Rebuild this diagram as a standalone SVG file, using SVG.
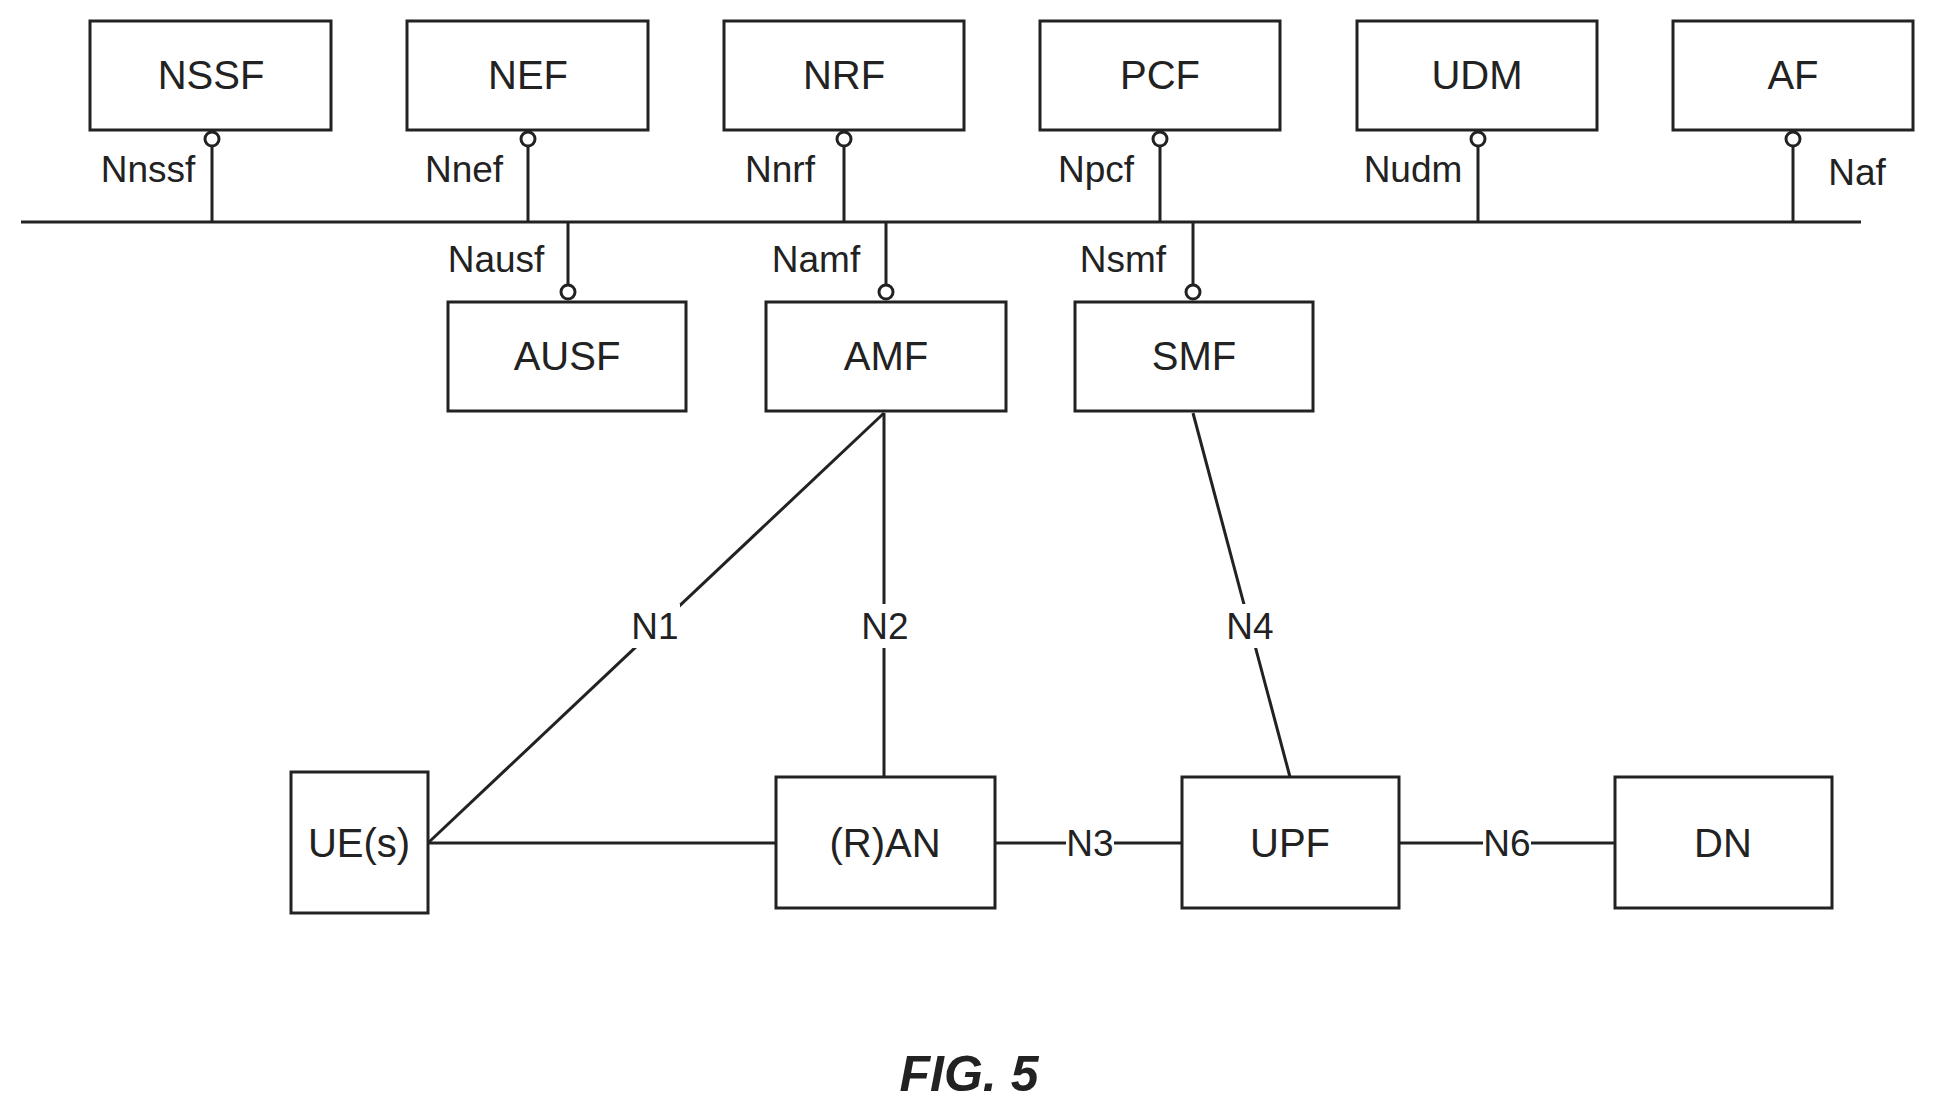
<svg xmlns="http://www.w3.org/2000/svg" width="1935" height="1116" viewBox="0 0 1935 1116">
<style>
.b{fill:#fff;stroke:#222;stroke-width:3}
.l{stroke:#222;stroke-width:3;fill:none}
.c{fill:#fff;stroke:#222;stroke-width:3}
text{font-family:"Liberation Sans",Arial,sans-serif;fill:#222}
.t{font-size:40px;text-anchor:middle;dominant-baseline:central}
.i{font-size:37px;text-anchor:middle;dominant-baseline:central}
</style>
<rect width="1935" height="1116" fill="#fff"/>
<g id="connectors">
<line class="l" x1="21" y1="222" x2="1861" y2="222"/>
<line class="l" x1="212" y1="146" x2="212" y2="222"/>
<line class="l" x1="528" y1="146" x2="528" y2="222"/>
<line class="l" x1="844" y1="146" x2="844" y2="222"/>
<line class="l" x1="1160" y1="146" x2="1160" y2="222"/>
<line class="l" x1="1478" y1="146" x2="1478" y2="222"/>
<line class="l" x1="1793" y1="146" x2="1793" y2="222"/>
<line class="l" x1="568" y1="222" x2="568" y2="285"/>
<line class="l" x1="886" y1="222" x2="886" y2="285"/>
<line class="l" x1="1193" y1="222" x2="1193" y2="285"/>
<line class="l" x1="884" y1="413" x2="428" y2="843"/>
<line class="l" x1="884" y1="413" x2="884" y2="777"/>
<line class="l" x1="1193" y1="413" x2="1290" y2="777"/>
<line class="l" x1="428" y1="843" x2="776" y2="843"/>
<line class="l" x1="995" y1="843" x2="1182" y2="843"/>
<line class="l" x1="1399" y1="843" x2="1615" y2="843"/>
<circle class="c" cx="212" cy="139" r="7"/><circle class="c" cx="528" cy="139" r="7"/>
<circle class="c" cx="844" cy="139" r="7"/><circle class="c" cx="1160" cy="139" r="7"/>
<circle class="c" cx="1478" cy="139" r="7"/><circle class="c" cx="1793" cy="139" r="7"/>
<circle class="c" cx="568" cy="292" r="7"/><circle class="c" cx="886" cy="292" r="7"/>
<circle class="c" cx="1193" cy="292" r="7"/>
<text class="i" x="148" y="169">Nnssf</text><text class="i" x="464" y="169">Nnef</text>
<text class="i" x="780" y="169">Nnrf</text><text class="i" x="1096" y="169">Npcf</text>
<text class="i" x="1413" y="169">Nudm</text><text class="i" x="1857" y="172">Naf</text>
<text class="i" x="496" y="259">Nausf</text><text class="i" x="816" y="259">Namf</text>
<text class="i" x="1123" y="259">Nsmf</text>
<rect x="630" y="604" width="50" height="44" fill="#fff"/><text class="i" x="655" y="626">N1</text>
<rect x="860" y="604" width="50" height="44" fill="#fff"/><text class="i" x="885" y="626">N2</text>
<rect x="1225" y="604" width="50" height="44" fill="#fff"/><text class="i" x="1250" y="626">N4</text>
<rect x="1066" y="822" width="48" height="42" fill="#fff"/><text class="i" x="1090" y="843">N3</text>
<rect x="1483" y="822" width="48" height="42" fill="#fff"/><text class="i" x="1507" y="843">N6</text>
</g>
<g id="NSSF"><rect class="b" x="90" y="21" width="241" height="109"/><text class="t" x="211" y="75">NSSF</text></g>
<g id="NEF"><rect class="b" x="407" y="21" width="241" height="109"/><text class="t" x="528" y="75">NEF</text></g>
<g id="NRF"><rect class="b" x="724" y="21" width="240" height="109"/><text class="t" x="844" y="75">NRF</text></g>
<g id="PCF"><rect class="b" x="1040" y="21" width="240" height="109"/><text class="t" x="1160" y="75">PCF</text></g>
<g id="UDM"><rect class="b" x="1357" y="21" width="240" height="109"/><text class="t" x="1477" y="75">UDM</text></g>
<g id="AF"><rect class="b" x="1673" y="21" width="240" height="109"/><text class="t" x="1793" y="75">AF</text></g>
<g id="AUSF"><rect class="b" x="448" y="302" width="238" height="109"/><text class="t" x="567" y="356">AUSF</text></g>
<g id="AMF"><rect class="b" x="766" y="302" width="240" height="109"/><text class="t" x="886" y="356">AMF</text></g>
<g id="SMF"><rect class="b" x="1075" y="302" width="238" height="109"/><text class="t" x="1194" y="356">SMF</text></g>
<g id="UE"><rect class="b" x="291" y="772" width="137" height="141"/><text class="t" x="359" y="843">UE(s)</text></g>
<g id="RAN"><rect class="b" x="776" y="777" width="219" height="131"/><text class="t" x="885" y="843">(R)AN</text></g>
<g id="UPF"><rect class="b" x="1182" y="777" width="217" height="131"/><text class="t" x="1290" y="843">UPF</text></g>
<g id="DN"><rect class="b" x="1615" y="777" width="217" height="131"/><text class="t" x="1723" y="843">DN</text></g>
<text x="969" y="1074" font-size="50" font-weight="bold" font-style="italic" text-anchor="middle" dominant-baseline="central">FIG. 5</text>
</svg>
